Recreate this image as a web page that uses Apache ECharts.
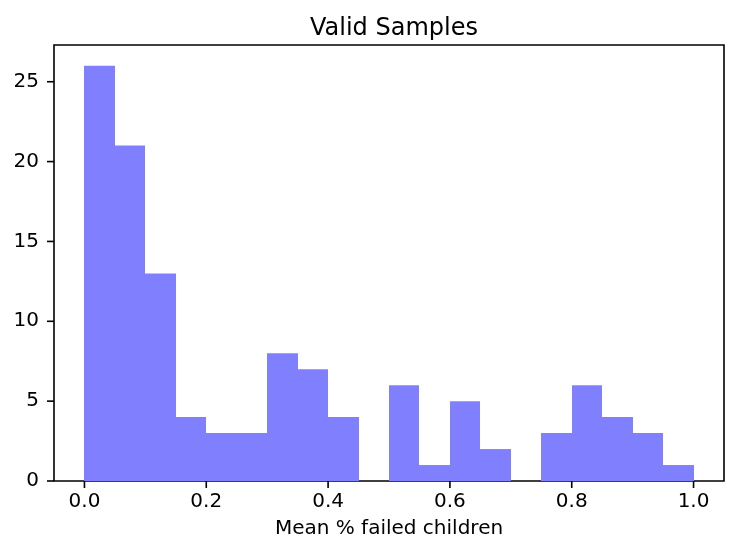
<!DOCTYPE html>
<html>
<head>
<meta charset="utf-8">
<script src="https://cdn.jsdelivr.net/npm/echarts@6/dist/echarts.min.js"></script>
<style>
  html, body { margin: 0; padding: 0; background: #fff; }
  #main { width: 737px; height: 554px; }
</style>
</head>
<body>
<div id="main"></div>
<script>
// histogram bins (20 bins of width 0.05 over 0..1)
const binEdges = [0, 0.05, 0.1, 0.15, 0.2, 0.25, 0.3, 0.35, 0.4, 0.45, 0.5,
  0.55, 0.6, 0.65, 0.7, 0.75, 0.8, 0.85, 0.9, 0.95, 1.0];
const counts = [26, 21, 13, 4, 3, 3, 8, 7, 4, 0, 6, 1, 5, 2, 0, 3, 6, 4, 3, 1];
const xTicks = [0, 0.2, 0.4, 0.6, 0.8, 1.0];
const yTicks = [0, 5, 10, 15, 20, 25];

const font = "DejaVu Sans";
const xMin = -0.05, xMax = 1.05;
const yMin = 0, yMax = 27.3;
const tickLen = 7;

const chart = echarts.init(document.getElementById("main"));

const data = counts.map((c, i) => [binEdges[i], binEdges[i + 1], c]);

// tick marks drawn through the axes' own scales
function tickSeries(points, dx, dy) {
  return {
    type: "custom",
    clip: false,
    silent: true,
    z: 10,
    data: points,
    encode: { x: 0, y: 1 },
    renderItem: function (params, api) {
      const p = api.coord([api.value(0), api.value(1)]);
      return {
        type: "line",
        shape: { x1: p[0], y1: p[1], x2: p[0] + dx, y2: p[1] + dy },
        style: { stroke: "#000", lineWidth: 1.6 }
      };
    }
  };
}

const option = {
  backgroundColor: "#fff",
  animation: false,
  title: {
    text: "Valid Samples",
    left: 389,
    top: 12,
    textAlign: "center",
    textStyle: { fontFamily: font, fontSize: 24, fontWeight: "normal", color: "#000" }
  },
  grid: {
    left: 54, right: 13, top: 45, bottom: 73,
    show: true, borderColor: "#000", borderWidth: 1.6, backgroundColor: "transparent"
  },
  xAxis: {
    type: "value",
    min: xMin,
    max: xMax,
    name: "Mean % failed children",
    nameLocation: "middle",
    nameGap: 38,
    nameTextStyle: { fontFamily: font, fontSize: 20, color: "#000" },
    axisLine: { show: false, onZero: false },
    splitLine: { show: false },
    axisTick: { show: false },
    axisLabel: {
      customValues: xTicks,
      fontFamily: font, fontSize: 20, color: "#000", margin: 11,
      formatter: v => v.toFixed(1)
    }
  },
  yAxis: {
    type: "value",
    min: yMin,
    max: yMax,
    axisLine: { show: false, onZero: false },
    splitLine: { show: false },
    axisTick: { show: false },
    axisLabel: {
      customValues: yTicks,
      fontFamily: font, fontSize: 20, color: "#000", margin: 15
    }
  },
  series: [
    {
      type: "custom",
      data: data,
      encode: { x: [0, 1], y: 2 },
      renderItem: function (params, api) {
        if (api.value(2) <= 0) return null;
        const p0 = api.coord([api.value(0), 0]);
        const p1 = api.coord([api.value(1), api.value(2)]);
        const x0 = Math.round(p0[0]);
        const x1 = Math.round(p1[0]);
        return {
          type: "rect",
          shape: { x: x0, y: p1[1], width: x1 - x0, height: p0[1] - p1[1] },
          style: { fill: "#8080ff" }
        };
      }
    },
    tickSeries(xTicks.map(v => [v, yMin]), 0, tickLen),
    tickSeries(yTicks.map(v => [xMin, v]), -tickLen, 0)
  ]
};

chart.setOption(option);
</script>
</body>
</html>
